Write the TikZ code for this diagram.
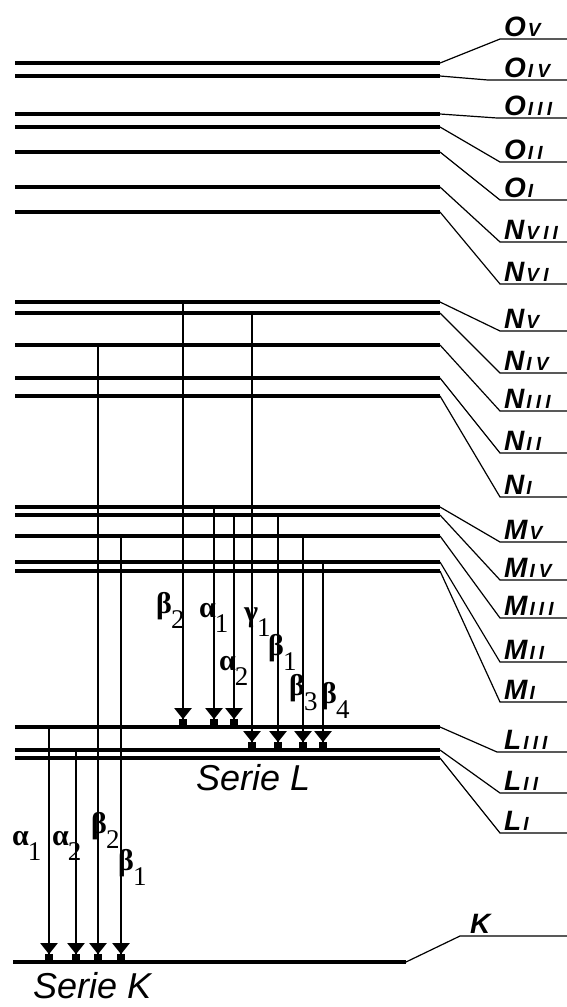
\documentclass[tikz,border=0pt]{standalone}
\usepackage{fontspec}
\setmainfont{Liberation Sans}
\newfontfamily\grk{Liberation Serif}
\usetikzlibrary{arrows.meta}
\newcommand\lv[2]{{\fontsize{28}{28}\selectfont\bfseries\itshape #1\kern2pt}{\fontsize{19}{19}\selectfont\bfseries\itshape\addfontfeature{LetterSpace=22}#2}}
\newcommand\gk[2]{{\grk\bfseries\fontsize{30}{30}\selectfont #1\kern-1pt\raisebox{-15pt}{\mdseries\fontsize{27}{27}\selectfont #2}}}
\begin{document}
\begin{tikzpicture}[x=1pt,y=-1pt,
  level/.style={line width=3.6pt},
  conn/.style={line width=1.2pt},
  arr/.style={line width=2pt, shorten >=1.8pt, -{Triangle[width=17pt,length=11pt]Rectangle[width=8pt,length=6pt]}},
  lab/.style={anchor=base west, inner sep=0pt},
  glab/.style={anchor=base west, inner sep=0pt},
  serie/.style={anchor=base west, inner sep=0pt, font=\fontsize{36}{36}\selectfont\itshape}]
\useasboundingbox (0,0) rectangle (567,1007);
\foreach \n/\y/\ly/\ex/\a/\b in {
  OV/63/39/500/O/V, OIV/76/80/488/O/IV, OIII/114/118/497/O/III, OII/127/162/500/O/II, OI/152/200/500/O/I,
  NVII/187/242/500/N/VII, NVI/212/284/500/N/VI,
  NV/302/331/500/N/V, NIV/313/373/500/N/IV, NIII/345/411/500/N/III, NII/378/453/500/N/II, NI/396/497/500/N/I,
  MV/507/542/500/M/V, MIV/515/580/500/M/IV, MIII/536/618/500/M/III, MII/562/662/500/M/II, MI/571/702/500/M/I,
  LIII/727/752/497/L/III, LII/750/793/500/L/II, LI/758/833/500/L/I}{
  \coordinate (\n) at (15,\y);
  \coordinate (\n-e) at (440,\y);
  \coordinate (\n-c) at (\ex,\ly);
  \coordinate (\n-r) at (567,\ly);
  \draw[level] (\n) -- (\n-e);
  \draw[conn] (\n-e) -- (\n-c) -- (\n-r);
  \node[lab] (\n-lab) at (504,\ly-3) {\lv{\a}{\b}};
}
% K level
\coordinate (K) at (13,962);
\coordinate (K-e) at (406,962);
\coordinate (K-c) at (460,936);
\coordinate (K-r) at (567,936);
\draw[level] (K) -- (K-e);
\draw[conn] (K-e) -- (K-c) -- (K-r);
\node[lab] (K-lab) at (470,933) {\lv{K}{}};
% x positions of arrows
\foreach \n/\x in {Lb2/183, La1/214, La2/234, Lg1/252, Lb1/278, Lb3/303, Lb4/323, Ka1/49, Ka2/76, Kb2/98, Kb1/121}{
  \coordinate (x\n) at (\x,0);
}
% L series
\draw[arr] (xLb2 |- NV) -- (xLb2 |- LIII);
\draw[arr] (xLa1 |- MV) -- (xLa1 |- LIII);
\draw[arr] (xLa2 |- MIV) -- (xLa2 |- LIII);
\draw[arr] (xLg1 |- NIV) -- (xLg1 |- LII);
\draw[arr] (xLb1 |- MIV) -- (xLb1 |- LII);
\draw[arr] (xLb3 |- MIII) -- (xLb3 |- LII);
\draw[arr] (xLb4 |- MII) -- (xLb4 |- LII);
% K series
\draw[arr] (xKa1 |- LIII) -- (xKa1 |- K);
\draw[arr] (xKa2 |- LII) -- (xKa2 |- K);
\draw[arr] (xKb2 |- NIII) -- (xKb2 |- K);
\draw[arr] (xKb1 |- MIII) -- (xKb1 |- K);
% arrow labels
\node[glab] (tLb2) at (156,613) {\gk{β}{2}};
\node[glab] (tLa1) at (199,617) {\gk{α}{1}};
\node[glab] (tLg1) at (244,621) {\gk{γ}{1}};
\node[glab] (tLa2) at (219,670) {\gk{α}{2}};
\node[glab] (tLb1) at (268,655) {\gk{β}{1}};
\node[glab] (tLb3) at (289,695) {\gk{β}{3}};
\node[glab] (tLb4) at (321,703) {\gk{β}{4}};
\node[glab] (tKa1) at (12,845) {\gk{α}{1}};
\node[glab] (tKa2) at (52,845) {\gk{α}{2}};
\node[glab] (tKb2) at (91,833) {\gk{β}{2}};
\node[glab] (tKb1) at (118,870) {\gk{β}{1}};
% series labels
\node[serie] (serL) at (196,790) {Serie L};
\node[serie] (serK) at (33,998) {Serie K};
\end{tikzpicture}
\end{document}
